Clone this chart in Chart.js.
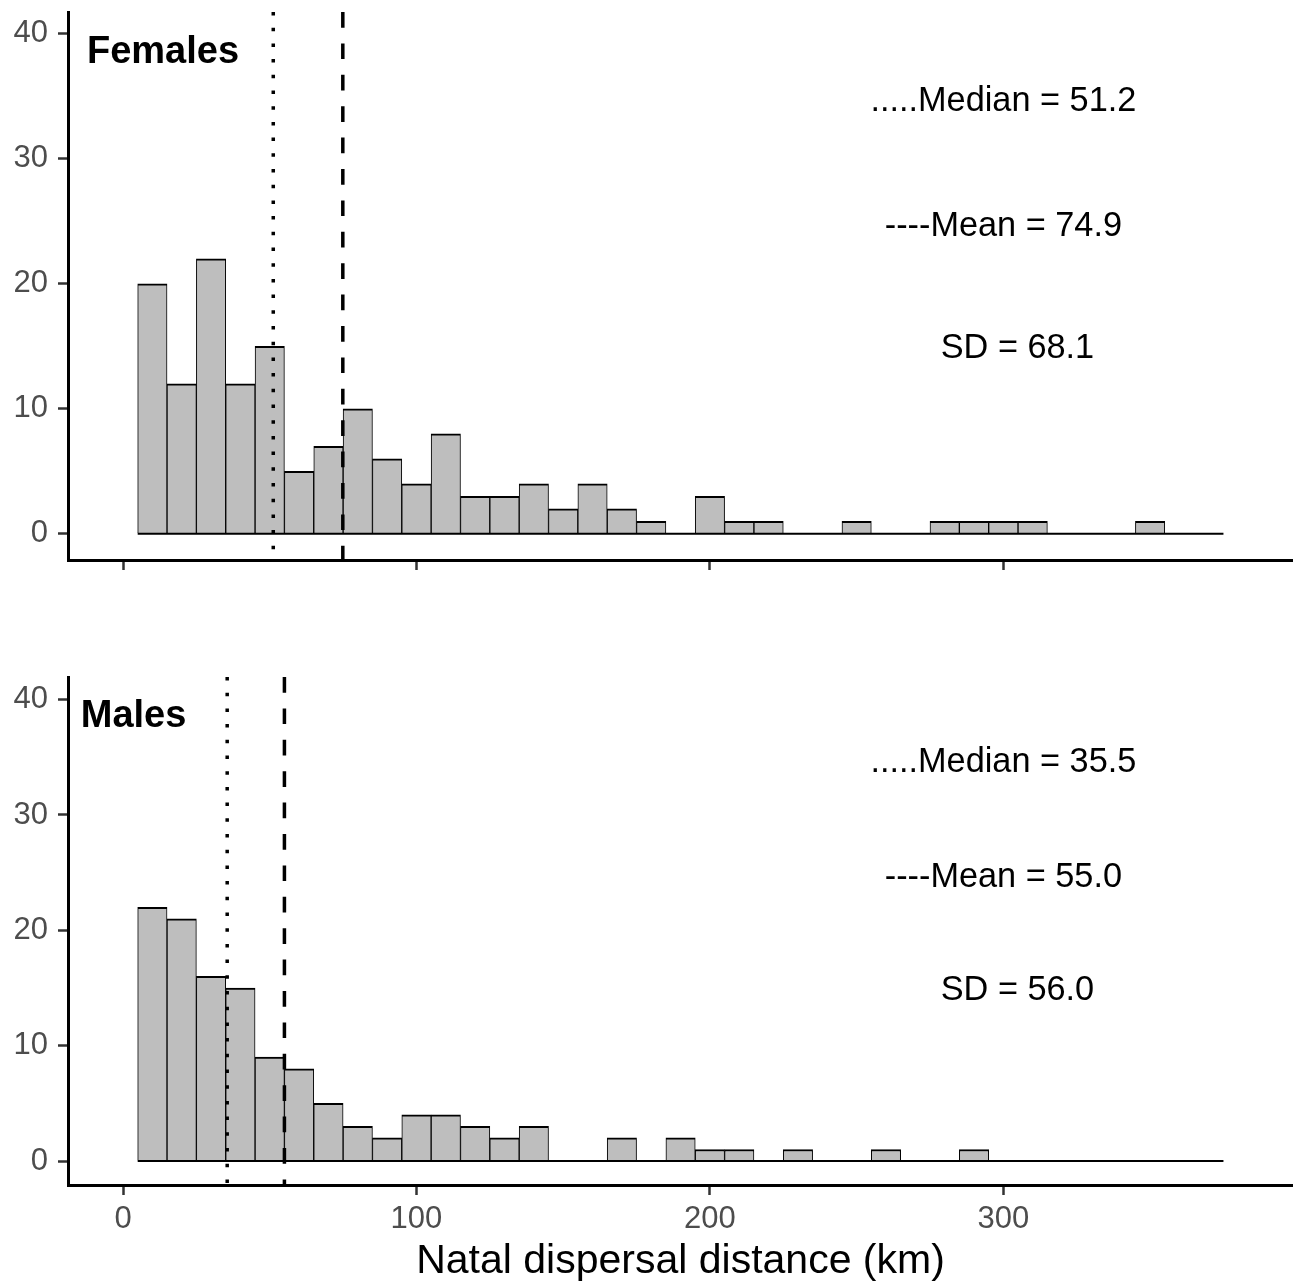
<!DOCTYPE html>
<html><head><meta charset="utf-8">
<script src="https://cdn.jsdelivr.net/npm/chart.js@4/dist/chart.umd.min.js"></script>
<style>
html,body{margin:0;padding:0;background:#fff;}
#wrap{position:relative;width:1293px;height:1282px;overflow:hidden;background:#fff}
canvas{position:absolute;left:0;display:block}
</style></head><body>
<div id="wrap">
<canvas id="topChart" width="1293" height="640" style="top:0;width:1293px;height:640px"></canvas>
<canvas id="botChart" width="1293" height="642" style="top:640px;width:1293px;height:642px"></canvas>
</div>
<script>
// ---- data ----
const binCenters = [10,20,30,40,50,60,70,80,90,100,110,120,130,140,150,160,170,180,190,200,210,220,230,240,250,260,270,280,290,300,310,320,330,340,350,360,370];
const binWidth = 10;
const femaleCounts = [20,12,22,12,15,5,7,10,6,4,8,3,3,4,2,4,2,1,0,3,1,1,0,0,1,0,0,1,1,1,1,0,0,0,1,0,0];
const maleCounts   = [22,21,16,15,9,8,5,3,2,4,4,3,2,3,0,0,2,0,2,1,1,0,1,0,0,1,0,0,1,0,0,0,0,0,0,0,0];
const femaleStats = [51.2, 74.9, 68.1];   // median, mean, SD
const maleStats   = [35.5, 55.0, 56.0];
const panelNames = ['Females', 'Males'];
const xTicks = [0, 100, 200, 300];
const yTicks = [0, 10, 20, 30, 40];
const xTitle = 'Natal dispersal distance (km)';

// ---- layout constants ----
const xMin = -18.75, xMax = 398.7;
const FONT = "'Liberation Sans', Arial, Helvetica, sans-serif";
Chart.defaults.font.family = FONT;

const textPlugin = {
  id: 'txt',
  afterDatasetsDraw(chart, args, opts) {
    const {ctx} = chart; const xs = chart.scales.x, ys = chart.scales.y;
    ctx.save();
    for (const t of opts.items || []) {
      ctx.font = t.font; ctx.fillStyle = '#000';
      ctx.textAlign = t.align; ctx.textBaseline = 'middle';
      ctx.fillText(t.text, xs.getPixelForValue(t.x), ys.getPixelForValue(t.y));
    }
    ctx.restore();
  }
};

function makePanel(id, counts, stats, name, cfg) {
  const barData = binCenters.map((c, i) => ({x: c, y: counts[i] > 0 ? counts[i] : null}));
  const lo = binCenters[0] - binWidth / 2, hi = binCenters[binCenters.length - 1] + binWidth / 2;
  const items = [
    {text: name, x: cfg.nameX, y: 38.5, align: 'left', font: 'bold 38px ' + FONT},
    {text: '.....Median = ' + stats[0].toFixed(1), x: 300, y: 34.55, align: 'center', font: '34.3px ' + FONT},
    {text: '----Mean = ' + stats[1].toFixed(1), x: 300, y: 24.55, align: 'center', font: '34.3px ' + FONT},
    {text: 'SD = ' + stats[2].toFixed(1), x: 304.8, y: 14.8, align: 'center', font: '34.3px ' + FONT}
  ];
  const gridOpts = {display: true, drawOnChartArea: false, drawTicks: true, tickLength: 10, tickColor: '#333', tickWidth: 2.5, offset: false};
  return new Chart(document.getElementById(id), {
    type: 'bar',
    data: {datasets: [
      {type: 'line', data: [{x: stats[0], y: cfg.yMax}, {x: stats[0], y: cfg.yMin}], borderColor: '#000', borderWidth: 3.5, borderDash: [3.5, 12.2], pointRadius: 0, order: 0},
      {type: 'line', data: [{x: stats[1], y: cfg.yMax}, {x: stats[1], y: cfg.yMin}], borderColor: '#000', borderWidth: 3.5, borderDash: [15.7, 15.7], pointRadius: 0, order: 0},
      {type: 'line', data: [{x: lo, y: 0}, {x: hi, y: 0}], borderColor: '#000', borderWidth: 2, pointRadius: 0, order: 1},
      {type: 'bar', data: barData, backgroundColor: '#bebebe', borderColor: '#000',
       borderWidth: {top: 2, left: 1, right: 1, bottom: 0}, borderSkipped: false,
       barPercentage: 1, categoryPercentage: 1, order: 2}
    ]},
    options: {
      responsive: false, animation: false, devicePixelRatio: 1,
      layout: {padding: {top: cfg.padTop, left: 0, right: 0, bottom: 0}},
      plugins: {legend: {display: false}, tooltip: {enabled: false}, txt: {items}},
      scales: {
        x: {type: 'linear', min: xMin, max: xMax, offset: false,
            grid: gridOpts,
            border: {display: true, color: '#000', width: 3},
            ticks: {display: cfg.showX, padding: 6, color: '#4d4d4d', font: {size: 31}, maxRotation: 0, autoSkip: false},
            afterBuildTicks: s => { s.ticks = xTicks.map(v => ({value: v})); },
            title: {display: cfg.showX, text: xTitle, color: '#000', font: {size: 41, lineHeight: 1}, padding: {top: 0, bottom: 0}},
            afterFit: s => { s.height = cfg.xAxisHeight; s.paddingLeft = 0; s.paddingRight = 0; }
        },
        y: {type: 'linear', min: cfg.yMin, max: cfg.yMax,
            grid: gridOpts,
            border: {display: true, color: '#000', width: 3},
            ticks: {padding: 10, color: '#4d4d4d', font: {size: 31}},
            afterBuildTicks: s => { s.ticks = yTicks.map(v => ({value: v})); },
            afterFit: s => { s.width = 68; s.paddingTop = 0; s.paddingBottom = 0; }
        }
      }
    },
    plugins: [textPlugin]
  });
}

makePanel('topChart', femaleCounts, femaleStats, panelNames[0],
  {yMin: -2.1, yMax: 41.75, padTop: 12, xAxisHeight: 80, showX: false, nameX: -12.3});
makePanel('botChart', maleCounts, maleStats, panelNames[1],
  {yMin: -2.08, yMax: 41.96, padTop: 37, xAxisHeight: 97, showX: true, nameX: -14.4});
</script>
</body></html>
